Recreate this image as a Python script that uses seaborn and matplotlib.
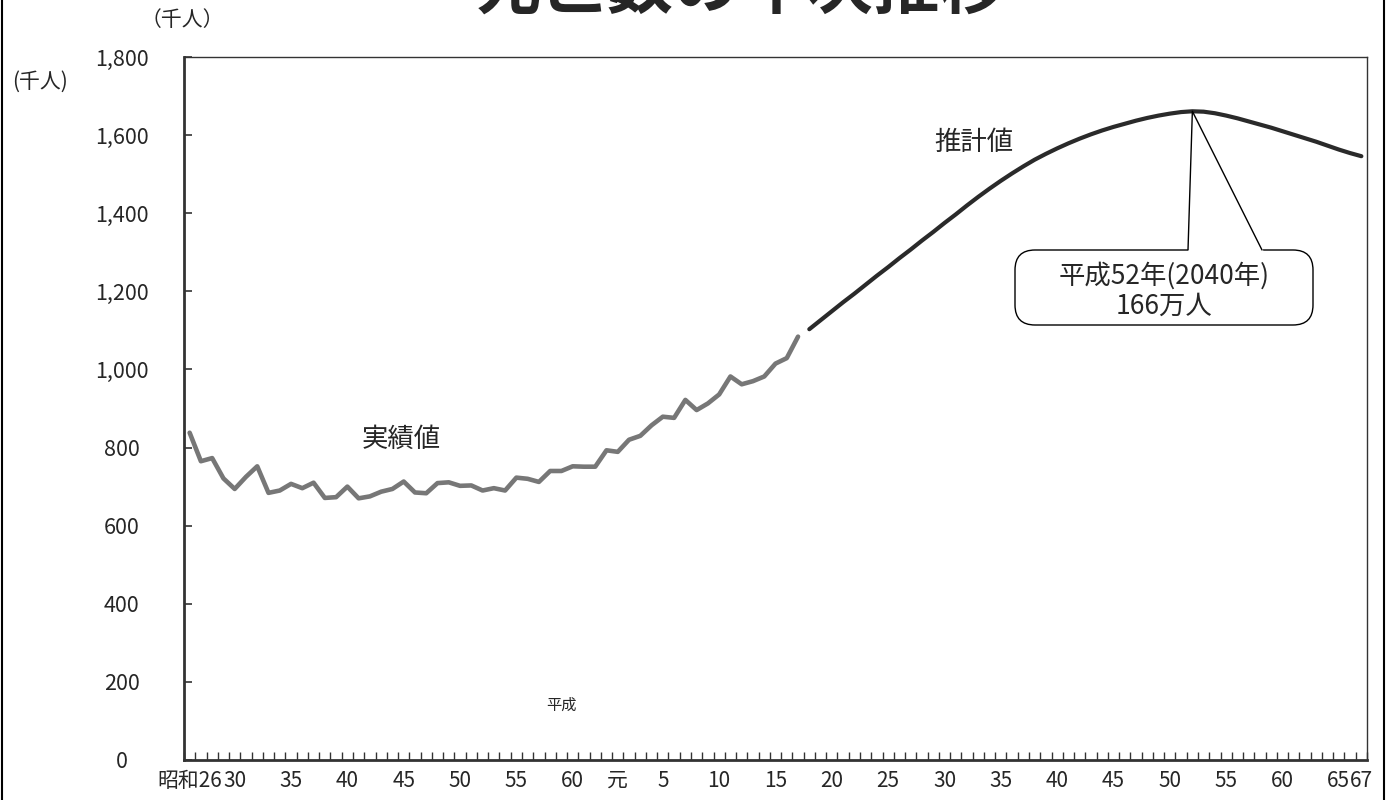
import numpy as np
import pandas as pd
import seaborn as sns
import matplotlib.pyplot as plt
import matplotlib.transforms as mtransforms
from matplotlib.patches import FancyBboxPatch
from matplotlib.lines import Line2D

# 実績値 (千人)
years_actual = list(range(1951, 2006))
deaths_actual = [838, 765, 773, 721, 694, 725, 752, 684, 690, 707,
                 696, 710, 671, 673, 700, 670, 675, 687, 694, 713,
                 685, 683, 709, 711, 702, 703, 690, 696, 690, 723,
                 720, 712, 740, 740, 752, 751, 751, 793, 789, 820,
                 830, 857, 879, 876, 922, 896, 913, 936, 982, 962,
                 970, 982, 1015, 1029, 1084]

# 推計値 (千人)
years_proj = list(range(2006, 2056))
deaths_proj = [1103, 1126, 1149, 1172, 1194, 1217, 1240, 1262, 1285, 1307,
               1330, 1352, 1375, 1397, 1420, 1442, 1463, 1483, 1502, 1520,
               1537, 1552, 1566, 1579, 1591, 1602, 1612, 1621, 1629, 1637,
               1644, 1650, 1655, 1659, 1661, 1660, 1656, 1650, 1643, 1635,
               1627, 1619, 1610, 1601, 1592, 1583, 1573, 1563, 1554, 1546]

tick_years = [1951, 1955, 1960, 1965, 1970, 1975, 1980, 1985, 1989, 1993, 1998, 2003,
              2008, 2013, 2018, 2023, 2028, 2033, 2038, 2043, 2048, 2053, 2055]
tick_labels = ['昭和26', '30', '35', '40', '45', '50', '55', '60', '元', '5', '10', '15',
               '20', '25', '30', '35', '40', '45', '50', '55', '60', '65', '67']
y_ticks = [0, 200, 400, 600, 800, 1000, 1200, 1400, 1600, 1800]

df_a = pd.DataFrame({'year': years_actual, 'deaths': deaths_actual})
df_p = pd.DataFrame({'year': years_proj, 'deaths': deaths_proj})

sns.set_style('white')
plt.rcParams['font.family'] = ['Noto Sans CJK JP', 'DejaVu Sans']

W, H = 1389, 800
fig = plt.figure(figsize=(W / 100, H / 100), dpi=100)
# pixel coords, origin top-left
pix = mtransforms.Affine2D().scale(1 / W, -1 / H).translate(0, 1) + fig.transFigure

ax = fig.add_axes([184 / W, 40 / H, 1183 / W, 703 / H])

sns.lineplot(data=df_a, x='year', y='deaths', ax=ax, color='#777777', linewidth=3.3)
sns.lineplot(data=df_p, x='year', y='deaths', ax=ax, color='#2a2a2a', linewidth=3.0)

ax.set_xlim(1950.5, 2055.5)
ax.set_ylim(0, 1800)
ax.set_xlabel('')
ax.set_ylabel('')

# y 軸
ax.set_yticks(y_ticks)
ax.set_yticklabels([f'{v:,}' for v in y_ticks], ha='center')
ax.tick_params(axis='y', direction='in', length=6, width=1.2, color='#333333',
               pad=45, labelsize=15.5, left=True)

# x 軸
ax.set_xticks(tick_years)
ax.set_xticklabels(tick_labels)
ax.set_xticks(np.arange(1950.5, 2056, 1), minor=True)
ax.tick_params(axis='x', which='major', length=0, pad=7, labelsize=15)
ax.tick_params(axis='x', which='minor', direction='in', length=6, width=1,
               color='#333333', bottom=True)

for side in ['left', 'bottom']:
    ax.spines[side].set_color('#333333')
    ax.spines[side].set_linewidth(2)
for side in ['top', 'right']:
    ax.spines[side].set_color('#333333')
    ax.spines[side].set_linewidth(1)
    ax.spines[side].set_visible(True)

# テキスト
ax.text(1969.8, 820, '実績値', ha='center', va='center', fontsize=19)
ax.text(2020.6, 1582, '推計値', ha='center', va='center', fontsize=19)
ax.text(1984, 141, '平成', ha='center', va='center', fontsize=11)

fig.text(740 / W, 1 - 8 / H, '死亡数の年次推移', ha='center', va='baseline',
         fontsize=48, fontweight='bold')
fig.text(40 / W, 1 - 82 / H, '(千人)', ha='center', va='center', fontsize=15)
fig.text(182 / W, 1 - 20 / H, '（千人）', ha='center', va='center', fontsize=15)

# 吹き出し
peak_i = int(np.argmax(deaths_proj))
tip = ax.transData.transform((years_proj[peak_i], deaths_proj[peak_i]))
tip_px = pix.inverted().transform(tip)

box = FancyBboxPatch((1015, 250), 298, 75, boxstyle='round,pad=0,rounding_size=20',
                     transform=pix, facecolor='white', edgecolor='black', linewidth=1)
fig.add_artist(box)
fig.add_artist(Line2D([1189, 1261], [250, 250], transform=pix, color='white', linewidth=2.5))
fig.add_artist(Line2D([1188, tip_px[0], 1262], [250, tip_px[1], 250], transform=pix,
                      color='black', linewidth=1))
fig.text(1164 / W, 1 - 276 / H, '平成52年(2040年)', ha='center', va='center', fontsize=19)
fig.text(1164 / W, 1 - 306 / H, '166万人', ha='center', va='center', fontsize=19)

# 外枠
fig.add_artist(Line2D([2 / W, 2 / W], [0, 1], transform=fig.transFigure, color='black', linewidth=1.5))
fig.add_artist(Line2D([1384 / W, 1384 / W], [0, 1], transform=fig.transFigure, color='black', linewidth=1.5))

fig.savefig('out.png', dpi=100)
